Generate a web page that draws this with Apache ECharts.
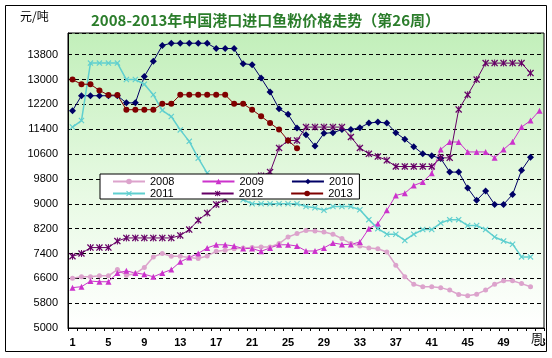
<!DOCTYPE html>
<html><head><meta charset="utf-8">
<script src="https://cdn.jsdelivr.net/npm/echarts@6/dist/echarts.min.js"></script>
<style>html,body{margin:0;padding:0;background:#fff}#c{width:552px;height:358px}</style>
</head><body><div id="c"></div>
<script>
const weeks = ['1','2','3','4','5','6','7','8','9','10','11','12','13','14','15','16','17','18','19','20','21','22','23','24','25','26','27','28','29','30','31','32','33','34','35','36','37','38','39','40','41','42','43','44','45','46','47','48','49','50','51','52','53'];
const seriesNames = ['2008','2009','2010','2011','2012','2013'];
const s2008 = [6600,6650,6650,6680,6680,6880,6700,6750,6950,7290,7400,7310,7310,7270,7240,7320,7470,7500,7550,7580,7590,7610,7610,7720,7930,8040,8140,8120,8090,8020,7880,7720,7640,7580,7550,7450,7020,6650,6410,6330,6330,6300,6220,6080,6040,6090,6220,6410,6520,6520,6430,6330];
const s2009 = [6300,6330,6510,6490,6490,6770,6840,6770,6730,6650,6770,6880,7130,7270,7400,7580,7680,7680,7640,7560,7560,7470,7580,7680,7680,7640,7480,7480,7580,7740,7690,7690,7770,8200,8360,8790,9270,9340,9590,9700,9980,10750,10990,10990,10670,10670,10670,10480,10750,11000,11470,11680,12000];
const s2010 = [12000,12480,12480,12480,12480,12480,12250,12250,13100,13590,14100,14170,14170,14170,14170,14170,14000,14000,14000,13510,13480,13050,12600,12060,11880,11440,11220,10860,11270,11290,11390,11390,11450,11600,11630,11600,11290,11080,10840,10610,10550,10460,10020,10020,9510,9110,9410,8980,8980,9300,10080,10500];
const s2011 = [11470,11680,13530,13530,13530,13530,13000,13000,12850,12510,12010,11810,11380,11010,10470,9990,9700,9450,9250,9130,9000,9000,9000,9000,9000,9000,8910,8870,8790,8910,8910,8910,8810,8490,8200,8020,8020,7820,8020,8170,8170,8380,8490,8490,8300,8300,8170,7930,7800,7700,7290,7290];
const s2012 = [7310,7400,7590,7590,7590,7800,7900,7900,7900,7900,7900,7900,7980,8170,8470,8700,8980,9150,9350,9550,9750,9900,10020,10800,11040,11040,11470,11470,11470,11470,11470,11150,10800,10610,10520,10400,10200,10200,10200,10200,10200,10480,10480,12040,12510,13000,13530,13530,13530,13530,13530,13210];
const s2013 = [13000,12850,12850,12650,12500,12500,12030,12030,12030,12030,12220,12220,12510,12510,12510,12510,12510,12510,12220,12220,12030,11820,11600,11390,11040,10790];
const yMin = 5000, yMax = 14500, yStep = 800;
const titleText = '2008-2013年中国港口进口鱼粉价格走势（第26周）';
const unitText = '元/吨';
const xName = '周';

const XSYM = 'path://M0,1.3L1.3,0L5,3.7L8.7,0L10,1.3L6.3,5L10,8.7L8.7,10L5,6.3L1.3,10L0,8.7L3.7,5Z';
const STAR = XSYM + 'M4.3,0L5.7,0L5.7,10L4.3,10Z';

function mk(name, data, color, symbol, size, width) {
  return {
    name: name, type: 'line', data: data, symbol: symbol, symbolSize: size,
    showSymbol: true, showAllSymbol: true, animation: false,
    lineStyle: {color: color, width: width},
    itemStyle: {color: color, borderColor: color, borderWidth: 0},
    emphasis: {disabled: true}
  };
}

const chart = echarts.init(document.getElementById('c'), null, {renderer: 'canvas'});
const legendText = {color: '#000', fontSize: 11, fontFamily: 'Liberation Sans'};
chart.setOption({
  animation: false,
  backgroundColor: '#fff',
  title: {
    text: titleText, left: 86, top: 8,
    textStyle: {color: '#2b7d2b', fontSize: 15, fontWeight: 'bold', fontFamily: 'Noto Sans CJK SC'}
  },
  legend: [
    {data: seriesNames.slice(0, 3), left: 100, top: 174, itemWidth: 32, itemHeight: 7, itemGap: 27,
     padding: [2, 6, 12, 12], backgroundColor: '#fff', borderColor: '#000', borderWidth: 1,
     textStyle: legendText, selectedMode: false, z: 6},
    {data: seriesNames.slice(3), left: 112, top: 188, itemWidth: 32, itemHeight: 7, itemGap: 27,
     padding: 0, textStyle: legendText, selectedMode: false, z: 7}
  ],
  grid: {
    left: 68, right: 8, top: 33, bottom: 30, show: true,
    borderColor: '#000', borderWidth: 1,
    backgroundColor: new echarts.graphic.LinearGradient(0, 0, 0, 1, [
      {offset: 0, color: '#c2efba'}, {offset: 0.55, color: '#e8fae4'}, {offset: 1, color: '#ffffff'}
    ])
  },
  xAxis: {
    type: 'category', data: weeks, boundaryGap: true,
    axisLine: {lineStyle: {color: '#000'}},
    axisTick: {show: true, interval: 0, length: 3, lineStyle: {color: '#000'}},
    axisLabel: {interval: 3, color: '#000', fontSize: 11, fontWeight: 'bold', fontFamily: 'Liberation Sans', margin: 9},
    splitLine: {show: false}
  },
  yAxis: {
    type: 'value', min: yMin, max: yMax, interval: yStep,
    axisLine: {show: true, lineStyle: {color: '#000'}},
    axisTick: {show: false},
    axisLabel: {color: '#000', fontSize: 11, fontFamily: 'Liberation Sans', margin: 10, showMaxLabel: false,
                formatter: function (v) { return String(v); }},
    splitLine: {lineStyle: {color: '#000', type: [4, 3], width: 1}}
  },
  graphic: [
    {type: 'rect', silent: true, z: -1, shape: {x: 5.5, y: 5.5, width: 541, height: 346},
     style: {fill: 'none', stroke: '#000', lineWidth: 1}},
    {type: 'text', silent: true, left: 20, top: 10,
     style: {text: unitText, fill: '#000', fontSize: 12, fontFamily: 'Noto Sans CJK SC'}},
    {type: 'text', silent: true, left: 531, top: 332, z: 5,
     style: {text: xName, fill: '#000', fontSize: 12, fontFamily: 'Noto Sans CJK SC', backgroundColor: '#fff'}}
  ],
  series: [
    mk('2008', s2008, '#dca3cc', 'circle', 5, 1.5),
    mk('2009', s2009, '#cc33cc', 'triangle', 6, 1),
    mk('2010', s2010, '#000066', 'diamond', 7, 1),
    mk('2011', s2011, '#5fcfcf', XSYM, 6, 1.5),
    mk('2012', s2012, '#660066', STAR, 7, 1),
    mk('2013', s2013, '#800000', 'circle', 6, 1)
  ]
});
</script>
</body></html>
